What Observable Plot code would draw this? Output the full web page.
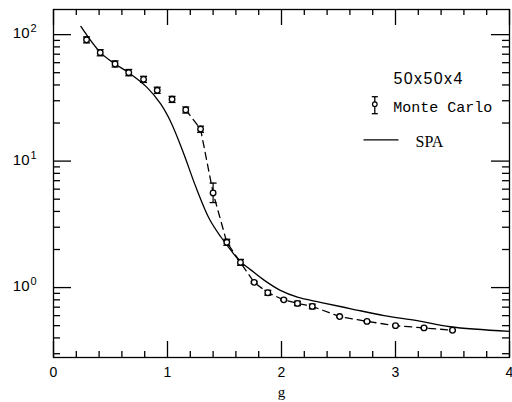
<!DOCTYPE html>
<html>
<head>
<meta charset="utf-8">
<script src="https://cdn.jsdelivr.net/npm/d3@7"></script>
<script src="https://cdn.jsdelivr.net/npm/@observablehq/plot@0.6"></script>
<style>
  html, body { margin: 0; padding: 0; background: #fff; }
  #chart { width: 512px; height: 402px; }
</style>
</head>
<body>
<div id="chart"></div>
<script>
// Monte Carlo data (50x50x4)
const mcG  = [0.29, 0.41, 0.54, 0.66, 0.79, 0.91, 1.04, 1.16, 1.29, 1.40, 1.52, 1.64, 1.76, 1.88, 2.02, 2.14, 2.27, 2.51, 2.75, 3.00, 3.25, 3.50];
const mcY  = [91, 72, 58.6, 50, 44.3, 36.3, 30.8, 25.4, 17.9, 5.6, 2.28, 1.58, 1.10, 0.91, 0.80, 0.75, 0.71, 0.59, 0.54, 0.50, 0.48, 0.46];
const mcLo = [86, 68, 55.5, 47.3, 41.9, 34.3, 29.1, 24.0, 16.9, 4.7, 2.16, 1.50, 1.08, 0.87, 0.79, 0.72, 0.68, 0.585, 0.535, 0.495, 0.475, 0.455];
const mcHi = [96, 76, 62, 53, 46.8, 38.4, 32.5, 26.8, 18.9, 6.7, 2.41, 1.67, 1.12, 0.95, 0.81, 0.78, 0.74, 0.595, 0.545, 0.505, 0.485, 0.465];
// dashed connecting line starts at this index
const dashStart = 7;

// SPA curve
const spaG = [0.24, 0.41, 0.54, 0.66, 0.82, 0.94, 1.03, 1.14, 1.25, 1.37, 1.47, 1.58, 1.64, 1.73, 1.85, 1.99, 2.14, 2.34, 2.61, 2.90, 3.19, 3.48, 4.0];
const spaY = [116, 72.4, 58.6, 50, 38.3, 28.3, 20.3, 11.6, 6.2, 3.45, 2.5, 1.85, 1.6, 1.38, 1.14, 0.95, 0.84, 0.765, 0.68, 0.60, 0.548, 0.49, 0.45];

// ticks
const xMajor = [0, 1, 2, 3, 4];
const xMajorLabels = ["0", "1", "2", "3", "4"];
const xMinor = [0.2, 0.4, 0.6, 0.8, 1.2, 1.4, 1.6, 1.8, 2.2, 2.4, 2.6, 2.8, 3.2, 3.4, 3.6, 3.8];
const yMajor = [1, 10, 100];
const yMajorExp = ["0", "1", "2"];
const yMinor = [0.3, 0.4, 0.5, 0.6, 0.7, 0.8, 0.9, 2, 3, 4, 5, 6, 7, 8, 9, 20, 30, 40, 50, 60, 70, 80, 90];

// legend texts
const legendTitle = "50x50x4";
const legendMC = "Monte Carlo";
const legendSPA = "SPA";
const xLabel = "g";

const mc = mcG.map((g, i) => ({g, y: mcY[i], lo: mcLo[i], hi: mcHi[i], i}));
const mcDash = mc.filter(d => d.i >= dashStart);
const spa = spaG.map((g, i) => ({g, y: spaY[i]}));

const rad = size => Math.sqrt(size / Math.PI);
const hline = {draw(ctx, s) { const r = rad(s); ctx.moveTo(-r, 0); ctx.lineTo(r, 0); }};
const vline = {draw(ctx, s) { const r = rad(s); ctx.moveTo(0, -r); ctx.lineTo(0, r); }};

const W = 512, H = 402, mL = 53, mR = 3, mT = 9, mB = 45;
const FW = W - mL - mR, FH = H - mT - mB;
const sans = "'Liberation Sans', Arial, sans-serif";
const tk = {stroke: "black", strokeWidth: 1.3};

const chart = Plot.plot({
  width: W,
  height: H,
  marginLeft: mL,
  marginRight: mR,
  marginTop: mT,
  marginBottom: mB,
  style: {fontFamily: sans, background: "white", color: "black"},
  x: {domain: [0, 4], axis: null},
  y: {type: "log", domain: [0.28, 158], axis: null},
  marks: [
    Plot.frame({stroke: "black", strokeWidth: 1.3}),
    // x ticks (inward), bottom & top
    Plot.ruleX(xMajor, {x: d => d, insetTop: FH - 16, ...tk}),
    Plot.ruleX(xMinor, {x: d => d, insetTop: FH - 6, ...tk}),
    Plot.ruleX(xMajor, {x: d => d, insetBottom: FH - 16, ...tk}),
    Plot.ruleX(xMinor, {x: d => d, insetBottom: FH - 6, ...tk}),
    // y ticks (inward), left & right
    Plot.ruleY(yMajor, {y: d => d, insetRight: FW - 18, ...tk}),
    Plot.ruleY(yMinor, {y: d => d, insetRight: FW - 7, ...tk}),
    Plot.ruleY(yMajor, {y: d => d, insetLeft: FW - 18, ...tk}),
    Plot.ruleY(yMinor, {y: d => d, insetLeft: FW - 7, ...tk}),
    // x tick labels
    Plot.text(xMajor, {x: d => d, frameAnchor: "bottom", text: (d, i) => xMajorLabels[i], lineAnchor: "top", dy: 10, fontSize: 14, fill: "black"}),
    // y tick labels 10^n
    Plot.text(yMajor, {y: d => d, frameAnchor: "left", text: () => "10", textAnchor: "end", lineAnchor: "middle", dx: -24, dy: -1, fontSize: 15, fill: "black"}),
    Plot.text(yMajor, {y: d => d, frameAnchor: "left", text: (d, i) => yMajorExp[i], textAnchor: "start", lineAnchor: "middle", dx: -23, dy: -6, fontSize: 11, fill: "black"}),
    // x label
    Plot.text([xLabel], {frameAnchor: "bottom", text: d => d, lineAnchor: "middle", dy: 35, fontSize: 15, fontFamily: "'Liberation Serif', serif", fill: "black"}),
    // SPA line
    Plot.line(spa, {x: "g", y: "y", stroke: "black", strokeWidth: 1.3, curve: "catmull-rom"}),
    // MC dashed line
    Plot.line(mcDash, {x: "g", y: "y", stroke: "black", strokeWidth: 1.3, strokeDasharray: "7,5"}),
    // MC error bars
    Plot.ruleX(mc, {x: "g", y1: "lo", y2: "hi", stroke: "black", strokeWidth: 1.2}),
    Plot.dot(mc, {x: "g", y: "hi", symbol: hline, r: 3.5, stroke: "black", fill: "none", strokeWidth: 1.3}),
    Plot.dot(mc, {x: "g", y: "lo", symbol: hline, r: 3.5, stroke: "black", fill: "none", strokeWidth: 1.3}),
    Plot.dot(mc, {x: "g", y: "y", r: 2.8, stroke: "black", fill: "white", strokeWidth: 1.3}),
    // legend
    Plot.text([legendTitle], {frameAnchor: "top-left", text: d => d, dx: 340, dy: 69, textAnchor: "start", lineAnchor: "middle", fontSize: 16, fill: "black"}),
    Plot.dot([0], {frameAnchor: "top-left", dx: 321.3, dy: 95.7, symbol: vline, r: 8.5, stroke: "black", fill: "none", strokeWidth: 1.3}),
    Plot.dot([0], {frameAnchor: "top-left", dx: 321.3, dy: 87.2, symbol: hline, r: 3, stroke: "black", fill: "none", strokeWidth: 1.3}),
    Plot.dot([0], {frameAnchor: "top-left", dx: 321.3, dy: 104.2, symbol: hline, r: 3, stroke: "black", fill: "none", strokeWidth: 1.3}),
    Plot.dot([0], {frameAnchor: "top-left", dx: 321.3, dy: 94.7, r: 2.3, stroke: "black", fill: "white", strokeWidth: 1.2}),
    Plot.text([legendMC], {frameAnchor: "top-left", text: d => d, dx: 339.7, dy: 97.7, textAnchor: "start", lineAnchor: "middle", fontSize: 15, fontFamily: "'Liberation Mono', monospace", fill: "black"}),
    Plot.dot([0], {frameAnchor: "top-left", dx: 327.5, dy: 130.3, symbol: hline, r: 17.5, stroke: "black", fill: "none", strokeWidth: 1.3}),
    Plot.text([legendSPA], {frameAnchor: "top-left", text: d => d, dx: 362, dy: 132.7, textAnchor: "start", lineAnchor: "middle", fontSize: 16, fontFamily: "'Liberation Serif', serif", fill: "black"})
  ]
});
d3.select(chart).selectAll("text").filter(function() { return this.textContent === legendTitle; }).attr("letter-spacing", 1.4);
document.getElementById("chart").appendChild(chart);
</script>
</body>
</html>
